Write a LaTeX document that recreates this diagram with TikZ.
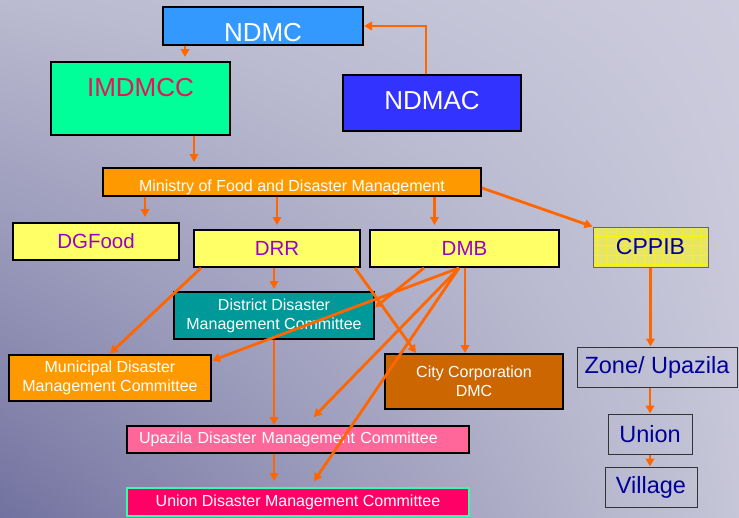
\documentclass[tikz,border=0pt]{standalone}
\usepackage{fontspec}
\setmainfont{Liberation Sans}
\usetikzlibrary{arrows.meta,shadings}
\definecolor{laranja}{HTML}{FF6600}
\definecolor{azulndmc}{HTML}{3399FF}
\definecolor{verdeimd}{HTML}{00FF99}
\definecolor{rosaimd}{HTML}{E8145A}
\definecolor{azulndmac}{HTML}{3333FF}
\definecolor{laranjamin}{HTML}{FF9900}
\definecolor{amarelo}{HTML}{FFFF66}
\definecolor{amarelocp}{HTML}{E5E56A}
\definecolor{roxo}{HTML}{9900CC}
\definecolor{azulescuro}{HTML}{000099}
\definecolor{verdedist}{HTML}{009999}
\definecolor{marromcc}{HTML}{CC6600}
\definecolor{rosaupz}{HTML}{FF6699}
\definecolor{rosauni}{HTML}{FF0066}
\definecolor{verdeborda}{HTML}{33FFAA}
\definecolor{fundoul}{RGB}{186,186,208}
\definecolor{fundour}{RGB}{204,204,221}
\definecolor{fundoll}{RGB}{114,114,160}
\definecolor{fundolr}{RGB}{198,198,216}
\tikzset{
  caixa/.style={draw=black,line width=2pt,inner sep=0pt},
  nivel/.style={draw=black!80,line width=1pt,inner sep=0pt,text=azulescuro,font=\fontsize{23.5pt}{23.5pt}\selectfont},
  seta/.style={draw=laranja,line width=2.8pt,-{Triangle[length=8pt,width=8.5pt]}}
}
\begin{document}
\begin{tikzpicture}[x=1pt,y=-1pt]
  %fundo
  \shade[upper left=fundoul,upper right=fundour,lower left=fundoll,lower right=fundolr] (0,0) rectangle (739,517);
  \useasboundingbox (0,0) rectangle (739,517);

  %caixas de cima
  \node[caixa,fill=azulndmc,text=white,minimum width=200pt,text height=34pt,text depth=4pt,font=\fontsize{26pt}{26pt}\selectfont] (ndmc) at (263,26) {NDMC};
  \node[caixa,fill=verdeimd,text=rosaimd,minimum width=179pt,text height=34pt,text depth=39pt,font=\fontsize{26pt}{26pt}\selectfont] (imdmcc) at (140.5,98.5) {IMDMCC};
  \node[caixa,fill=azulndmac,text=white,minimum width=178pt,text height=34pt,text depth=22pt,font=\fontsize{26pt}{26pt}\selectfont] (ndmac) at (432,103) {NDMAC};

  %ministerio
  \node[caixa,fill=laranjamin,text=white,minimum width=378pt,text height=23pt,text depth=5pt,font=\fontsize{16pt}{16pt}\selectfont] (ministry) at (292,182) {Ministry of Food and Disaster Management};

  %departamentos
  \node[caixa,fill=amarelo,text=roxo,minimum width=166pt,minimum height=37pt,font=\fontsize{20.5pt}{20.5pt}\selectfont] (dgfood) at (96,241.5) {DGFood};
  \node[caixa,fill=amarelo,text=roxo,minimum width=166pt,minimum height=37pt,font=\fontsize{20.5pt}{20.5pt}\selectfont] (drr) at (277,248.5) {DRR};
  \node[caixa,fill=amarelo,text=roxo,minimum width=189pt,minimum height=37pt,font=\fontsize{20.5pt}{20.5pt}\selectfont] (dmb) at (464.5,248.5) {DMB};
  \node[fill=amarelocp,draw=black!60,line width=1pt,inner sep=0pt,minimum width=115pt,minimum height=40pt,text=azulescuro,font=\fontsize{23pt}{23pt}\selectfont,
        path picture={\draw[yellow!90!amarelocp,line width=0.5pt] (path picture bounding box.south west) grid[step=9.5pt] (path picture bounding box.north east);}] (cppib) at (650.5,247) {CPPIB};

  %comites
  \node[caixa,fill=verdedist,text=white,minimum width=200pt,minimum height=47pt,align=center,font=\fontsize{16pt}{19pt}\selectfont] (district) at (274,315.5) {District Disaster\\Management Committee};
  \node[caixa,fill=laranjamin,text=white,minimum width=202pt,minimum height=46pt,align=center,font=\fontsize{16pt}{19pt}\selectfont] (municipal) at (110,377.5) {Municipal Disaster\\Management Committee};
  \node[caixa,fill=marromcc,text=white,minimum width=178pt,minimum height=55pt,align=center,font=\fontsize{16pt}{19pt}\selectfont] (citycorp) at (474,381.5) {City Corporation\\DMC};
  \node[caixa,fill=rosaupz,text=white,minimum width=342pt,minimum height=27pt,text width=318pt,align=left,font=\fontsize{16pt}{16pt}\selectfont] (upazila) at (298,439.5) {Upazila Disaster Management Committee};
  \node[caixa,draw=verdeborda,fill=rosauni,text=white,minimum width=342pt,minimum height=28pt,font=\fontsize{16pt}{16pt}\selectfont] (union) at (298,502) {Union Disaster Management Committee};

  %coluna da direita
  \node[nivel,minimum width=160pt,minimum height=40pt] (zone) at (657,367) {Zone/ Upazila};
  \node[nivel,minimum width=84pt,minimum height=40pt] (unionv) at (650,434) {Union};
  \node[nivel,minimum width=92pt,minimum height=40pt] (village) at (651,487) {Village};

  %setas de cima
  \coordinate (s1) at ([xshift=23pt]ndmc.south west);
  \coordinate (s2) at ([xshift=-37pt]imdmcc.south east);
  \coordinate (s3) at ([xshift=43pt]ministry.south west);
  \coordinate (s4) at ([xshift=-30pt]dmb.north);
  \draw[seta,shorten >=4pt] (s1) -- (s1 |- imdmcc.north);
  \draw[seta] ([xshift=-6pt]ndmac.north) |- (ndmc.east);
  \draw[seta,shorten >=5pt] (s2) -- (s2 |- ministry.north);
  \draw[seta,shorten >=5pt] (s3) -- (s3 |- dgfood.north);
  \draw[seta,shorten >=4pt] (drr.north |- ministry.south) -- (drr.north);
  \draw[seta,shorten >=4pt] (s4 |- ministry.south) -- (s4);
  \draw[seta] ([yshift=-6pt]ministry.east) -- (cppib.north west);

  %setas do DRR
  \coordinate (r1) at ([xshift=8pt]drr.south west);
  \coordinate (r2) at ([xshift=-6pt]drr.south east);
  \draw[seta] (r1) -- (municipal.north);
  \draw[seta,shorten >=2pt] (drr.south -| district.north) -- (district.north);
  \draw[seta] (r2) -- ([xshift=32pt]citycorp.north west);
  \draw[seta] (district.south) -- (district.south |- upazila.north);
  \draw[seta,shorten >=6pt] (district.south |- upazila.south) -- (district.south |- union.north);

  %setas do DMB
  \coordinate (m1) at ([xshift=55pt]dmb.south west);
  \coordinate (m2) at ([xshift=90pt]dmb.south west);
  \coordinate (m3) at ([xshift=96pt]dmb.south west);
  \draw[seta] (m1) -- ([yshift=8pt]district.east);
  \draw[seta] (m2) -- ([yshift=-7pt]municipal.north east);
  \draw[seta,shorten >=11pt] (m2) -- ([xshift=8pt]upazila.north);
  \draw[seta,shorten >=7pt] (m2) -- ([xshift=12pt]union.north);
  \draw[seta] (m3) -- (m3 |- citycorp.north);

  %setas da direita
  \draw[seta] (cppib.south) -- (cppib.south |- zone.north);
  \draw[seta] (unionv.north |- zone.south) -- (unionv.north);
  \draw[seta] (unionv.south) -- (unionv.south |- village.north);
\end{tikzpicture}
\end{document}
